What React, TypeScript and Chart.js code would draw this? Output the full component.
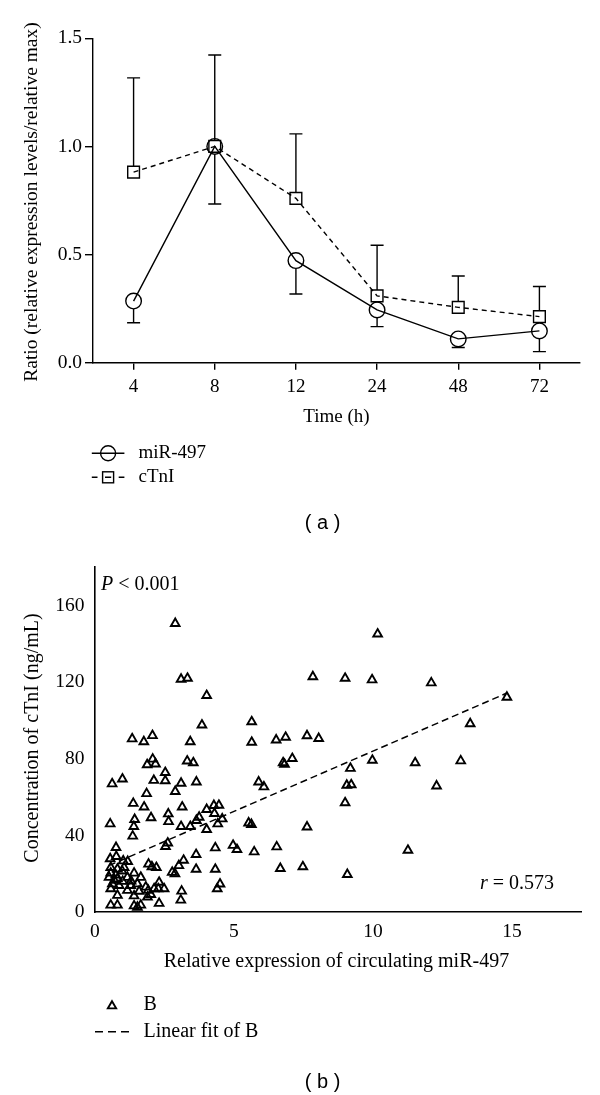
import React, { useEffect, useRef } from 'react';
import { Chart, registerables } from 'chart.js';

Chart.register(...registerables);

// ---------- Panel (a) data ----------
const timeLabels = ['4', '8', '12', '24', '48', '72'];
const mirValues = [0.285, 1.0, 0.472, 0.244, 0.11, 0.147];
const mirLower = [0.185, 0.734, 0.318, 0.167, 0.07, 0.051];
const ctniValues = [0.881, 1.0, 0.76, 0.309, 0.256, 0.213];
const ctniUpper = [1.317, 1.423, 1.058, 0.543, 0.401, 0.352];
const ratioTicks = [0, 0.5, 1.0, 1.5];

// ---------- Panel (b) data ----------
const mirExpression = [
  2.89, 10.17, 3.10, 3.33, 7.84, 9.00, 9.97, 12.10, 4.02, 14.82,
  3.85, 5.64, 13.50, 1.34, 1.76, 2.07, 3.43, 5.64, 6.52, 6.86,
  7.63, 8.05, 1.88, 2.08, 2.18, 3.32, 3.54, 6.77, 6.82, 7.10,
  9.98, 11.52, 13.16, 9.19, 2.53, 0.62, 0.99, 2.12, 2.53, 3.10,
  3.65, 5.89, 6.08, 9.06, 9.22, 12.29, 2.89, 1.86, 9.00, 1.38,
  1.77, 3.14, 4.28, 4.46, 4.02, 2.64, 4.30, 1.43, 2.02, 3.75,
  3.65, 4.58, 2.65, 0.55, 1.40, 3.10, 3.43, 4.42, 5.53, 5.63,
  4.02, 7.63, 1.36, 2.62, 2.54, 0.76, 4.33, 4.97, 5.11, 5.73,
  6.54, 11.26, 0.55, 0.77, 3.64, 3.19, 1.02, 1.18, 3.02, 1.93,
  2.05, 2.21, 3.64, 4.33, 6.67, 7.48, 2.78, 2.88, 9.08, 0.57,
  0.81, 1.05, 0.57, 0.75, 0.98, 1.41, 1.65, 0.51, 0.81, 1.17,
  0.63, 0.87, 1.29, 1.53, 1.83, 2.31, 2.13, 2.49, 0.57, 1.17,
  1.59, 1.92, 2.28, 0.81, 1.41, 1.89, 2.01, 3.09, 3.12, 2.31,
  0.57, 0.81, 1.41, 1.65, 1.53, 4.50, 4.40, 1.00, 0.70, 1.30,
];
const ctniConcentration = [
  150.6, 145.1, 121.5, 122.0, 122.8, 122.0, 121.2, 119.6, 113.0, 112.1,
  97.6, 99.3, 98.3, 90.4, 88.9, 92.1, 88.9, 88.6, 89.8, 91.2,
  92.0, 90.6, 76.9, 79.8, 77.3, 78.8, 77.9, 77.9, 77.1, 80.1,
  79.2, 77.9, 78.9, 75.0, 72.8, 66.9, 69.4, 68.7, 68.5, 67.2,
  67.9, 67.9, 65.3, 66.2, 66.4, 65.8, 62.9, 61.8, 57.0, 56.7,
  54.8, 54.8, 55.6, 55.7, 53.5, 51.2, 51.4, 48.3, 49.2, 49.5,
  47.8, 48.6, 47.2, 46.0, 44.6, 44.6, 44.6, 46.0, 46.5, 45.7,
  43.1, 44.4, 39.6, 36.0, 34.2, 33.7, 33.5, 34.8, 32.6, 31.4,
  34.0, 32.2, 27.8, 29.0, 30.0, 27.0, 26.7, 26.4, 24.2, 25.0,
  23.6, 23.2, 22.3, 22.3, 22.7, 23.6, 20.7, 20.0, 19.6, 23.2,
  22.4, 23.2, 20.3, 19.3, 21.4, 20.3, 18.1, 18.1, 17.3, 18.1,
  14.7, 13.8, 13.8, 14.7, 13.0, 15.5, 12.1, 12.1, 12.1, 11.3,
  10.8, 11.3, 12.1, 8.7, 8.4, 7.8, 9.1, 6.2, 10.9, 4.5,
  3.6, 3.6, 3.2, 3.6, 2.5, 14.6, 12.1, 16.0, 16.5, 16.2,
];
const fitX = [0.5, 14.82];
const fitY = [24.2, 114.3];
const concTicks = [0, 40, 80, 120, 160];
const exprTicks = [0, 5, 10, 15];

const SERIF = '"Liberation Serif", "Times New Roman", serif';
const SANS = '"Liberation Sans", Arial, sans-serif';

function drawTriangle(ctx: CanvasRenderingContext2D, x: number, y: number, r: number) {
  ctx.beginPath();
  ctx.moveTo(x, y - r);
  ctx.lineTo(x + 0.866 * r, y + 0.5 * r);
  ctx.lineTo(x - 0.866 * r, y + 0.5 * r);
  ctx.closePath();
  ctx.stroke();
}

const errorBarPlugin = {
  id: 'errorBars',
  afterDatasetsDraw(chart: any) {
    const ctx = chart.ctx;
    const xs = chart.scales.x;
    const ys = chart.scales.y;
    ctx.save();
    ctx.strokeStyle = '#000';
    ctx.lineWidth = 1.4;
    ctx.setLineDash([]);
    const cap = 6.5;
    for (let i = 0; i < timeLabels.length; i++) {
      const x = xs.getPixelForValue(i);
      const y0 = ys.getPixelForValue(mirValues[i]) + 7.8;
      const y1 = ys.getPixelForValue(mirLower[i]);
      if (y1 > y0) {
        ctx.beginPath();
        ctx.moveTo(x, y0); ctx.lineTo(x, y1);
        ctx.moveTo(x - cap, y1); ctx.lineTo(x + cap, y1);
        ctx.stroke();
      }
      const u0 = ys.getPixelForValue(ctniValues[i]) - 5.9;
      const u1 = ys.getPixelForValue(ctniUpper[i]);
      if (u1 < u0) {
        ctx.beginPath();
        ctx.moveTo(x, u0); ctx.lineTo(x, u1);
        ctx.moveTo(x - cap, u1); ctx.lineTo(x + cap, u1);
        ctx.stroke();
      }
    }
    ctx.restore();
  },
};

const textsAPlugin = {
  id: 'textsA',
  afterDraw(chart: any) {
    const ctx = chart.ctx;
    ctx.save();
    ctx.fillStyle = '#000';
    ctx.strokeStyle = '#000';
    ctx.textBaseline = 'middle';
    ctx.font = `19px ${SERIF}`;
    ctx.textAlign = 'center';
    ctx.fillText('Time (h)', 336.4, 416.7);
    ctx.save();
    ctx.translate(31.5, 202);
    ctx.rotate(-Math.PI / 2);
    ctx.font = `19.5px ${SERIF}`;
    ctx.fillText('Ratio (relative expression levels/relative max)', 0, 0);
    ctx.restore();

    // legend
    ctx.lineWidth = 1.4;
    ctx.setLineDash([]);
    ctx.beginPath();
    ctx.moveTo(91.8, 453.3); ctx.lineTo(124.4, 453.3);
    ctx.stroke();
    ctx.beginPath();
    ctx.arc(108.1, 453.3, 7.5, 0, Math.PI * 2);
    ctx.stroke();

    ctx.beginPath();
    ctx.moveTo(91.8, 477.3); ctx.lineTo(97.5, 477.3);
    ctx.moveTo(118.7, 477.3); ctx.lineTo(124.4, 477.3);
    ctx.moveTo(105, 477.3); ctx.lineTo(111.2, 477.3);
    ctx.stroke();
    ctx.strokeRect(102.6, 471.8, 11, 11);

    ctx.textAlign = 'left';
    ctx.fillText('miR-497', 138.5, 453.3);
    ctx.fillText('cTnI', 138.5, 477.3);

    ctx.textAlign = 'center';
    ctx.font = `20px ${SANS}`;
    ctx.fillText('( a )', 322.6, 523);
    ctx.restore();
  },
};

const textsBPlugin = {
  id: 'textsB',
  afterDraw(chart: any) {
    const ctx = chart.ctx;
    ctx.save();
    ctx.fillStyle = '#000';
    ctx.strokeStyle = '#000';
    ctx.textBaseline = 'middle';
    ctx.font = `20px ${SERIF}`;
    ctx.textAlign = 'center';
    ctx.fillText('Relative expression of circulating miR-497', 336.4, 417);
    ctx.save();
    ctx.translate(33, 193);
    ctx.rotate(-Math.PI / 2);
    ctx.fillText('Concentration of cTnI (ng/mL)', 0, 0);
    ctx.restore();

    ctx.textAlign = 'left';
    ctx.font = `italic 20px ${SERIF}`;
    ctx.fillText('P', 101, 40);
    let w = ctx.measureText('P').width;
    ctx.font = `20px ${SERIF}`;
    ctx.fillText(' < 0.001', 101 + w, 40);

    ctx.font = `italic 20px ${SERIF}`;
    ctx.fillText('r', 480, 339);
    w = ctx.measureText('r').width;
    ctx.font = `20px ${SERIF}`;
    ctx.fillText(' = 0.573', 480 + w, 339);

    ctx.lineWidth = 1.9;
    drawTriangle(ctx, 112, 461, 4.8);
    ctx.lineWidth = 1.4;
    ctx.setLineDash([8, 5]);
    ctx.beginPath();
    ctx.moveTo(95, 486.7); ctx.lineTo(131, 486.7);
    ctx.stroke();
    ctx.setLineDash([]);
    ctx.fillText('B', 143.5, 460);
    ctx.fillText('Linear fit of B', 143.5, 486.7);

    ctx.textAlign = 'center';
    ctx.font = `20px ${SANS}`;
    ctx.fillText('( b )', 322.6, 537);
    ctx.restore();
  },
};

function PanelA() {
  const ref = useRef<HTMLCanvasElement>(null);
  useEffect(() => {
    if (!ref.current) return;
    const chart = new Chart(ref.current, {
      type: 'line',
      data: {
        labels: timeLabels,
        datasets: [
          {
            label: 'miR-497',
            data: mirValues,
            borderColor: '#000',
            borderWidth: 1.4,
            tension: 0,
            fill: false,
            pointStyle: 'circle',
            pointRadius: 7.8,
            pointBorderColor: '#000',
            pointBackgroundColor: 'rgba(0,0,0,0)',
            pointBorderWidth: 1.4,
          },
          {
            label: 'cTnI',
            data: ctniValues,
            borderColor: '#000',
            borderWidth: 1.4,
            borderDash: [5, 4],
            tension: 0,
            fill: false,
            pointStyle: 'rect',
            pointRadius: 8.3,
            pointBorderColor: '#000',
            pointBackgroundColor: 'rgba(0,0,0,0)',
            pointBorderWidth: 1.4,
          },
        ],
      },
      options: {
        animation: false,
        responsive: false,
        layout: { padding: { top: 38.3, right: 20, left: 0, bottom: 0 } },
        plugins: { legend: { display: false }, tooltip: { enabled: false } },
        scales: {
          x: {
            type: 'category',
            offset: true,
            grid: { drawOnChartArea: false, drawTicks: true, tickLength: 7, color: '#000', lineWidth: 1.4 },
            border: { display: true, color: '#000', width: 1.4 },
            ticks: { color: '#000', font: { family: SERIF, size: 19 }, padding: 5.6, autoSkip: false, maxRotation: 0 },
            afterFit: (s: any) => { s.height = 545 - 362.7; },
          },
          y: {
            type: 'linear',
            min: 0,
            max: 1.5,
            afterBuildTicks: (s: any) => { s.ticks = ratioTicks.map((v) => ({ value: v })); },
            grid: { drawOnChartArea: false, drawTicks: true, tickLength: 8, color: '#000', lineWidth: 1.4 },
            border: { display: true, color: '#000', width: 1.4 },
            ticks: {
              color: '#000',
              font: { family: SERIF, size: 19.5 },
              padding: 3,
              callback: (v: any) => Number(v).toFixed(1),
            },
            afterFit: (s: any) => { s.width = 93; },
          },
        },
      },
      plugins: [errorBarPlugin, textsAPlugin],
    } as any);
    return () => chart.destroy();
  }, []);
  return <canvas ref={ref} width={600} height={545} style={{ display: 'block', width: 600, height: 545 }} />;
}

function PanelB() {
  const ref = useRef<HTMLCanvasElement>(null);
  useEffect(() => {
    if (!ref.current) return;
    const points = mirExpression.map((x, i) => ({ x, y: ctniConcentration[i] }));
    const fitPoints = fitX.map((x, i) => ({ x, y: fitY[i] }));
    const chart = new Chart(ref.current, {
      type: 'scatter',
      data: {
        datasets: [
          {
            label: 'B',
            data: points,
            showLine: false,
            pointStyle: 'triangle',
            pointRadius: 5,
            pointBorderColor: '#000',
            pointBackgroundColor: 'rgba(0,0,0,0)',
            pointBorderWidth: 1.9,
          },
          {
            label: 'Linear fit of B',
            type: 'line',
            data: fitPoints,
            showLine: true,
            borderColor: '#000',
            borderWidth: 1.5,
            borderDash: [7, 4],
            pointRadius: 0,
            fill: false,
          },
        ],
      },
      options: {
        animation: false,
        responsive: false,
        layout: { padding: { top: 16.7, right: 18.6, left: 0, bottom: 0 } },
        plugins: { legend: { display: false }, tooltip: { enabled: false } },
        scales: {
          x: {
            type: 'linear',
            min: 0,
            max: 17.5,
            afterBuildTicks: (s: any) => { s.ticks = exprTicks.map((v) => ({ value: v })); },
            grid: { drawOnChartArea: false, drawTicks: false },
            border: { display: true, color: '#000', width: 1.6 },
            ticks: { color: '#000', font: { family: SERIF, size: 19.5 }, padding: 7.7, maxRotation: 0 },
            afterFit: (s: any) => { s.height = 550 - 367; },
          },
          y: {
            type: 'linear',
            min: 0,
            max: 180,
            afterBuildTicks: (s: any) => { s.ticks = concTicks.map((v) => ({ value: v })); },
            grid: { drawOnChartArea: false, drawTicks: false },
            border: { display: true, color: '#000', width: 1.6 },
            ticks: { color: '#000', font: { family: SERIF, size: 19.5 }, padding: 10.5 },
            afterFit: (s: any) => { s.width = 94.9; },
          },
        },
      },
      plugins: [textsBPlugin],
    } as any);
    return () => chart.destroy();
  }, []);
  return <canvas ref={ref} width={600} height={550} style={{ display: 'block', width: 600, height: 550 }} />;
}

export default function App() {
  return (
    <div style={{ position: 'absolute', left: 0, top: 0, width: 600, height: 1095, background: '#fff' }}>
      <PanelA />
      <PanelB />
    </div>
  );
}
